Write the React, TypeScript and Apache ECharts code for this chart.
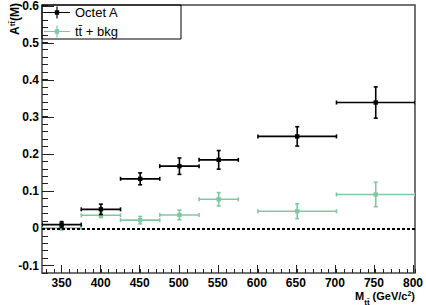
import React, { useEffect, useRef } from "react";
import * as echarts from "echarts";

const binLow = [325, 375, 425, 475, 525, 600, 700];
const binHigh = [375, 425, 475, 525, 575, 700, 800];
const binCenter = [350, 400, 450, 500, 550, 650, 750];
const octetValues = [0.010, 0.051, 0.133, 0.167, 0.184, 0.247, 0.338];
const octetErrors = [0.008, 0.014, 0.016, 0.022, 0.025, 0.026, 0.042];
const bkgValues = [0.001, 0.035, 0.022, 0.036, 0.078, 0.046, 0.091];
const bkgErrors = [0.005, 0.006, 0.010, 0.013, 0.018, 0.020, 0.033];
const seriesNames = ["Octet A", "t\u0074\u0304 + bkg"];

const FONT = "'Liberation Sans', Arial, Helvetica, sans-serif";

function buildData(vals: number[], errs: number[]) {
  return vals.map((v, i) => [binLow[i], binHigh[i], binCenter[i], v, errs[i]]);
}

function renderErr(params: any, api: any) {
  const xl = api.value(0), xh = api.value(1), xc = api.value(2), y = api.value(3), e = api.value(4);
  const pL = api.coord([xl, y]);
  const pH = api.coord([xh, y]);
  const pC = api.coord([xc, y]);
  const pT = api.coord([xc, y + e]);
  const pB = api.coord([xc, y - e]);
  const color = api.visual("color");
  const st = { stroke: color, lineWidth: 1.6, fill: null };
  const cap = 2;
  return {
    type: "group",
    children: [
      { type: "line", shape: { x1: pL[0], y1: pL[1], x2: pH[0], y2: pH[1] }, style: st },
      { type: "line", shape: { x1: pL[0], y1: pL[1] - cap, x2: pL[0], y2: pL[1] + cap }, style: st },
      { type: "line", shape: { x1: pH[0], y1: pH[1] - cap, x2: pH[0], y2: pH[1] + cap }, style: st },
      { type: "line", shape: { x1: pT[0], y1: pT[1], x2: pB[0], y2: pB[1] }, style: st },
      { type: "line", shape: { x1: pT[0] - cap, y1: pT[1], x2: pT[0] + cap, y2: pT[1] }, style: st },
      { type: "line", shape: { x1: pB[0] - cap, y1: pB[1], x2: pB[0] + cap, y2: pB[1] }, style: st },
      { type: "rect", shape: { x: pC[0] - 2.2, y: pC[1] - 2.2, width: 4.4, height: 4.4 }, style: { fill: color } },
    ],
  };
}

const hiddenAxisParts = {
  axisLine: { show: false, onZero: false },
  axisTick: { show: false },
  axisLabel: { show: false },
  splitLine: { show: false },
};

export default function App() {
  const ref = useRef<HTMLDivElement>(null);
  useEffect(() => {
    if (!ref.current) return;
    const chart = echarts.init(ref.current, undefined, { renderer: "svg" });
    const W = 426, H = 305;
    const left = 42, right = 11, top = 5, bottom = 32;
    const pxX = (W - left - right) / (800 - 325);
    const pxY = (H - top - bottom) / 0.72;
    const tickColor = "#222";
    const crossIcon = "path://M0,5.4H26V6.6H0Z M12.4,0H13.6V12H12.4Z M10.8,3.8H15.2V8.2H10.8Z";
    chart.setOption({
      animation: false,
      textStyle: { fontFamily: FONT },
      grid: [
        { left, right, top, bottom, show: true, borderColor: "#444", borderWidth: 1.5, backgroundColor: "transparent" },
        { left: left + 5 * pxX, right, top, bottom },
        { left: left + 25 * pxX, right, top, bottom },
        { left, right, top, bottom: bottom + 0.02 * pxY },
        { left, right, top: 0, height: 38 },
      ],
      xAxis: [
        { gridIndex: 0, type: "value", min: 325, max: 800, ...hiddenAxisParts },
        {
          gridIndex: 1, type: "value", min: 330, max: 800, interval: 10,
          axisLine: { show: false, onZero: false },
          axisTick: { inside: true, length: 4, lineStyle: { color: tickColor } },
          axisLabel: { show: false }, splitLine: { show: false },
        },
        {
          gridIndex: 2, type: "value", min: 350, max: 800, interval: 50,
          axisLine: { show: false, onZero: false },
          axisTick: { inside: true, length: 8, lineStyle: { color: tickColor } },
          axisLabel: { show: true, color: "#000", fontSize: 12, fontWeight: "bold", fontFamily: FONT, margin: 4 },
          splitLine: { show: false },
        },
        { gridIndex: 3, type: "value", min: 325, max: 800, ...hiddenAxisParts },
        { gridIndex: 4, type: "value", min: 325, max: 800, ...hiddenAxisParts },
      ],
      yAxis: [
        {
          gridIndex: 0, type: "value", min: -0.12, max: 0.6, interval: 0.02,
          axisLine: { show: false, onZero: false },
          axisTick: { inside: true, length: 6, lineStyle: { color: tickColor } },
          axisLabel: { show: false }, splitLine: { show: false },
        },
        { gridIndex: 1, type: "value", min: -0.12, max: 0.6, ...hiddenAxisParts },
        { gridIndex: 2, type: "value", min: -0.12, max: 0.6, ...hiddenAxisParts },
        {
          gridIndex: 3, type: "value", min: -0.1, max: 0.6, interval: 0.1,
          axisLine: { show: false, onZero: false },
          axisTick: { inside: true, length: 12, lineStyle: { color: tickColor } },
          axisLabel: {
            show: true, color: "#000", fontSize: 12, fontWeight: "bold", fontFamily: FONT, margin: 3,
            formatter: (v: number) => (Math.abs(v) < 1e-9 ? "0" : v.toFixed(1)),
          },
          splitLine: { show: false },
        },
        {
          gridIndex: 4, type: "value", min: 0, max: 1, ...hiddenAxisParts,
          name: "{b|A}{p|t\u0074\u0304}{b|(M)}",
          nameLocation: "middle", nameRotate: 90, nameGap: 24,
          nameTextStyle: {
            rich: {
              b: { fontSize: 12, fontWeight: "bold", fontFamily: FONT, color: "#000" },
              p: { fontSize: 8, fontWeight: "bold", fontFamily: FONT, color: "#000", padding: [0, 0, 6, 0] },
            },
          },
        },
      ],
      legend: {
        left: 44, top: 6, orient: "vertical",
        data: [seriesNames[0], seriesNames[1]],
        icon: crossIcon, itemWidth: 26, itemHeight: 12, itemGap: 6,
        textStyle: { fontSize: 13, color: "#000", fontFamily: FONT },
        padding: 0,
      },
      graphic: [
        { type: "rect", shape: { x: 42, y: 5, width: 139, height: 34 }, style: { fill: "rgba(0,0,0,0)", stroke: "#000", lineWidth: 1 }, z: 1 },
        {
          type: "text", x: 415, y: 302,
          style: {
            text: "{b|M}{s|t\u0074\u0304}{b| (GeV/c}{p|2}{b|)}",
            align: "right", verticalAlign: "bottom",
            rich: {
              b: { fontSize: 11, fontWeight: "bold", fontFamily: FONT, fill: "#000" },
              s: { fontSize: 8, fontWeight: "bold", fontFamily: FONT, fill: "#000", verticalAlign: "bottom", padding: [0, 0, -4, 0] },
              p: { fontSize: 7, fontWeight: "bold", fontFamily: FONT, fill: "#000", verticalAlign: "top", padding: [0, 0, 5, 0] },
            },
          },
        },
      ],
      series: [
        {
          name: seriesNames[1], type: "custom", xAxisIndex: 0, yAxisIndex: 0,
          renderItem: renderErr, data: buildData(bkgValues, bkgErrors),
          itemStyle: { color: "#7fc8a2" }, encode: { x: [0, 1, 2], y: [3] }, clip: true, z: 3,
        },
        {
          name: seriesNames[0], type: "custom", xAxisIndex: 0, yAxisIndex: 0,
          renderItem: renderErr, data: buildData(octetValues, octetErrors),
          itemStyle: { color: "#000" }, encode: { x: [0, 1, 2], y: [3] }, clip: true, z: 4,
          markLine: {
            silent: true, symbol: "none", label: { show: false },
            lineStyle: { color: "#000", width: 2, type: [3, 2] },
            data: [{ yAxis: 0 }],
          },
        },
      ],
    });
    return () => chart.dispose();
  }, []);
  return <div ref={ref} style={{ width: 426, height: 305, position: "absolute", left: 0, top: 0 }} />;
}
